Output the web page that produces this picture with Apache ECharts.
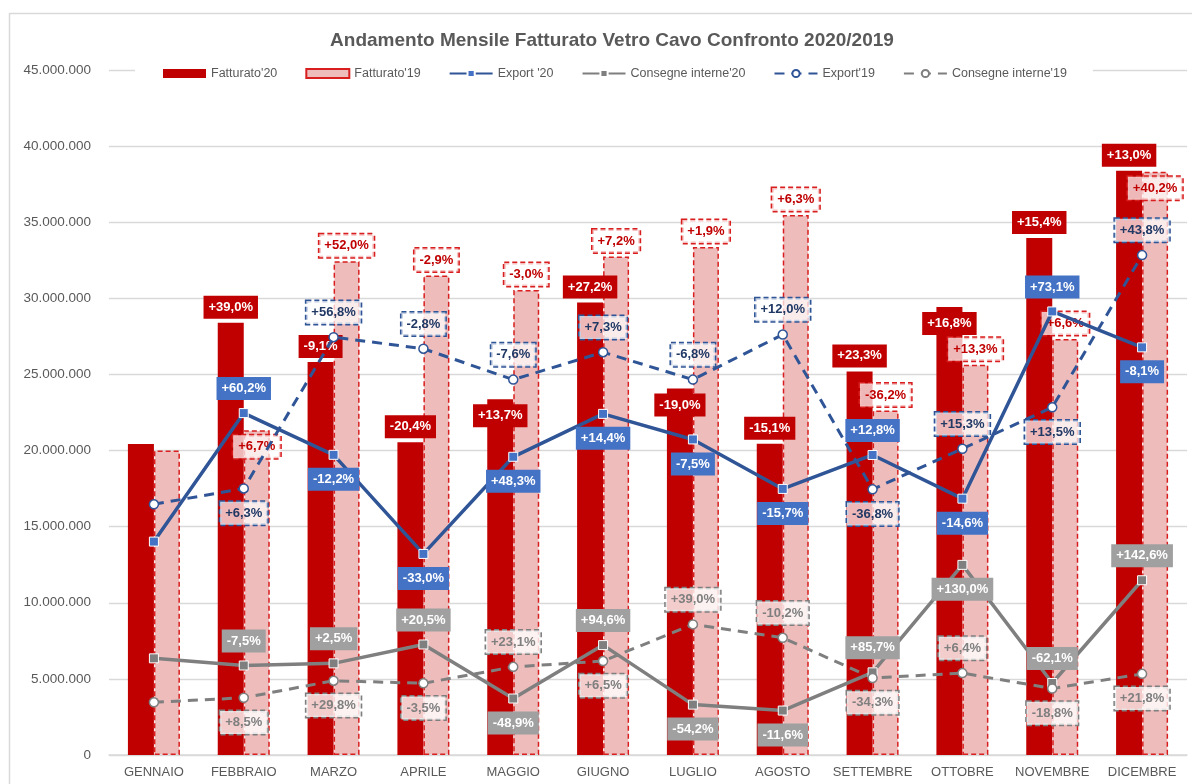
<!DOCTYPE html>
<html><head><meta charset="utf-8">
<script src="https://cdn.jsdelivr.net/npm/echarts@6/dist/echarts.min.js"></script>
<style>html,body{margin:0;padding:0;background:#fff}#c{width:1192px;height:784px}</style>
</head><body><div id="c"></div>
<script>
const FONT = "'Liberation Sans Narrow','Arial Narrow','Liberation Sans',Arial,sans-serif";

const months = ['GENNAIO','FEBBRAIO','MARZO','APRILE','MAGGIO','GIUGNO','LUGLIO','AGOSTO','SETTEMBRE','OTTOBRE','NOVEMBRE','DICEMBRE'];

const fatturato20 = [20430000, 28400000, 25820000, 20550000, 23370000, 29720000, 24080000, 20440000, 25200000, 29430000, 33970000, 38380000];
const fatturato19 = [20000000, 21340000, 32440000, 31500000, 30550000, 32750000, 33370000, 35470000, 22630000, 25640000, 27330000, 38320000];
const export20    = [14020000, 22460000, 19720000, 13210000, 19590000, 22410000, 20730000, 17480000, 19710000, 16840000, 29140000, 26780000];
const export19    = [16470000, 17510000, 27450000, 26690000, 24660000, 26460000, 24660000, 27620000, 17450000, 20120000, 22840000, 32840000];
const consegne20  = [6350000, 5880000, 6020000, 7260000, 3710000, 7220000, 3310000, 2920000, 5430000, 12490000, 4730000, 11480000];
const consegne19  = [3460000, 3760000, 4880000, 4710000, 5790000, 6170000, 8580000, 7700000, 5060000, 5380000, 4370000, 5330000];

const fatturato20Lbl = ['', '+39,0%', '-9,1%', '-20,4%', '+13,7%', '+27,2%', '-19,0%', '-15,1%', '+23,3%', '+16,8%', '+15,4%', '+13,0%'];
const fatturato19Lbl = ['', '+6,7%', '+52,0%', '-2,9%', '-3,0%', '+7,2%', '+1,9%', '+6,3%', '-36,2%', '+13,3%', '+6,6%', '+40,2%'];
const export20Lbl    = ['', '+60,2%', '-12,2%', '-33,0%', '+48,3%', '+14,4%', '-7,5%', '-15,7%', '+12,8%', '-14,6%', '+73,1%', '-8,1%'];
const export19Lbl    = ['', '+6,3%', '+56,8%', '-2,8%', '-7,6%', '+7,3%', '-6,8%', '+12,0%', '-36,8%', '+15,3%', '+13,5%', '+43,8%'];
const consegne20Lbl  = ['', '-7,5%', '+2,5%', '+20,5%', '-48,9%', '+94,6%', '-54,2%', '-11,6%', '+85,7%', '+130,0%', '-62,1%', '+142,6%'];
const consegne19Lbl  = ['', '+8,5%', '+29,8%', '-3,5%', '+23,1%', '+6,5%', '+39,0%', '-10,2%', '-34,3%', '+6,4%', '-18,8%', '+21,8%'];

// label placement (layout, not data)
const fatturato20Pos = ['top','top','top','top','insideTop','top','insideTop','top','top','insideTop','top','top'];
const fatturato19Pos = ['top','insideTop','top','top','top','top','top','top','top','top','top','insideTop'];
const export20Pos    = ['top','top','bottom','bottom','bottom','bottom','bottom','bottom','top','bottom','top','bottom'];
const export19Pos    = ['top','bottom','top','top','top','top','top','top','bottom','top','bottom','top'];
const consegne20Pos  = ['top','top','top','top','bottom','top','bottom','bottom','top','bottom','top','top'];
const consegne19Pos  = ['top','bottom','bottom','bottom','top','bottom','top','top','bottom','top','bottom','bottom'];

function items(vals, lbls, pos) {
  return vals.map((v, i) => {
    if (!lbls[i]) return { value: v, label: { show: false } };
    const it = { value: v };
    if (pos) it.label = { position: pos[i], distance: pos[i] === 'insideTop' ? 5 : undefined };
    return it;
  });
}
function fmtNum(v) { return String(v).replace(/\B(?=(\d{3})+(?!\d))/g, '.'); }

const lblBase = { show: true, fontFamily: FONT, fontSize: 13, fontWeight: 'bold', lineHeight: 15, padding: [4, 5] };

const chart = echarts.init(document.getElementById('c'), null, { renderer: 'canvas' });
chart.setOption({
  animation: false,
  backgroundColor: '#fff',
  textStyle: { fontFamily: FONT },
  graphic: [{
    type: 'rect', left: 7, top: 11, silent: true, z: -10,
    shape: { width: 1300, height: 900 },
    style: { fill: 'none', stroke: '#D9D9D9', lineWidth: 1.5 }
  }],
  title: {
    text: 'Andamento Mensile Fatturato Vetro Cavo Confronto 2020/2019',
    left: 607, top: 26, textAlign: 'center',
    textStyle: { fontFamily: FONT, fontSize: 19, fontWeight: 'bold', color: '#595959' }
  },
  legend: {
    top: 62, left: 135,
    padding: [5, 26, 5, 28],
    backgroundColor: '#fff',
    itemWidth: 43, itemHeight: 9, itemGap: 28,
    textStyle: { fontFamily: FONT, fontSize: 12.5, color: '#595959' },
    data: [
      { name: "Fatturato'20", icon: 'rect' },
      { name: "Fatturato'19", icon: 'rect' },
      { name: "Export '20" },
      { name: "Consegne interne'20" },
      { name: "Export'19" },
      { name: "Consegne interne'19" }
    ]
  },
  grid: { left: 109, right: 5, top: 70, bottom: 29, containLabel: false, outerBoundsMode: 'none' },
  xAxis: {
    type: 'category', data: months,
    axisLine: { lineStyle: { color: '#D9D9D9', width: 1.5 } },
    axisTick: { show: false },
    axisLabel: { color: '#595959', fontSize: 13, fontFamily: FONT, margin: 11, interval: 0 }
  },
  yAxis: {
    type: 'value', min: 0, max: 45000000, interval: 5000000,
    axisLine: { show: false }, axisTick: { show: false },
    splitLine: { lineStyle: { color: '#D9D9D9', width: 1.3 } },
    axisLabel: { color: '#595959', fontSize: 13.5, fontFamily: FONT, margin: 18, formatter: fmtNum }
  },
  series: [
    {
      name: "Fatturato'20", type: 'bar', barWidth: 26, barGap: '0%',
      itemStyle: { color: '#C00000' },
      emphasis: { disabled: true },
      data: items(fatturato20, fatturato20Lbl, fatturato20Pos),
      label: Object.assign({}, lblBase, { position: 'top', distance: 4, color: '#fff', backgroundColor: '#C00000',
        formatter: p => fatturato20Lbl[p.dataIndex] })
    },
    {
      name: "Fatturato'19", type: 'bar', barWidth: 26, barGap: '0%',
      itemStyle: { color: '#EFBCBC', borderColor: '#D81E1E', borderWidth: 1.5, borderType: [5, 3] },
      emphasis: { disabled: true },
      data: items(fatturato19, fatturato19Lbl, fatturato19Pos),
      label: Object.assign({}, lblBase, { position: 'top', distance: 4, color: '#C00000',
        backgroundColor: 'rgba(255,255,255,0.72)', borderColor: '#D81E1E', borderWidth: 1.5, borderType: [5, 3],
        formatter: p => fatturato19Lbl[p.dataIndex] })
    },
    {
      name: "Export '20", type: 'line', z: 3,
      symbol: 'rect', symbolSize: 9,
      lineStyle: { color: '#2F5597', width: 3.5 },
      itemStyle: { color: '#4472C4', borderColor: '#fff', borderWidth: 1 },
      emphasis: { disabled: true },
      data: items(export20, export20Lbl, export20Pos),
      label: Object.assign({}, lblBase, { distance: 8, color: '#fff', backgroundColor: '#4472C4',
        formatter: p => export20Lbl[p.dataIndex] })
    },
    {
      name: "Consegne interne'20", type: 'line', z: 3,
      symbol: 'rect', symbolSize: 9,
      lineStyle: { color: '#7F7F7F', width: 3.5 },
      itemStyle: { color: '#7F7F7F', borderColor: '#fff', borderWidth: 1 },
      emphasis: { disabled: true },
      data: items(consegne20, consegne20Lbl, consegne20Pos),
      label: Object.assign({}, lblBase, { distance: 8, color: '#fff', backgroundColor: '#A0A0A0',
        formatter: p => consegne20Lbl[p.dataIndex] })
    },
    {
      name: "Export'19", type: 'line', z: 3,
      symbol: 'circle', symbolSize: 9,
      lineStyle: { color: '#2F5597', width: 3, type: [10, 7] },
      itemStyle: { color: '#fff', borderColor: '#2F5597', borderWidth: 1.5 },
      emphasis: { disabled: true },
      data: items(export19, export19Lbl, export19Pos),
      label: Object.assign({}, lblBase, { distance: 8, color: '#203864',
        backgroundColor: 'rgba(255,255,255,0.72)', borderColor: '#2F5597', borderWidth: 1.5, borderType: [5, 3],
        formatter: p => export19Lbl[p.dataIndex] })
    },
    {
      name: "Consegne interne'19", type: 'line', z: 3,
      symbol: 'circle', symbolSize: 9,
      lineStyle: { color: '#7F7F7F', width: 3, type: [10, 7] },
      itemStyle: { color: '#fff', borderColor: '#7F7F7F', borderWidth: 1.5 },
      emphasis: { disabled: true },
      data: items(consegne19, consegne19Lbl, consegne19Pos),
      label: Object.assign({}, lblBase, { distance: 8, color: '#7F7F7F',
        backgroundColor: 'rgba(255,255,255,0.8)', borderColor: '#7F7F7F', borderWidth: 1.5, borderType: [5, 3],
        formatter: p => consegne19Lbl[p.dataIndex] })
    }
  ]
});
</script>
</body></html>
